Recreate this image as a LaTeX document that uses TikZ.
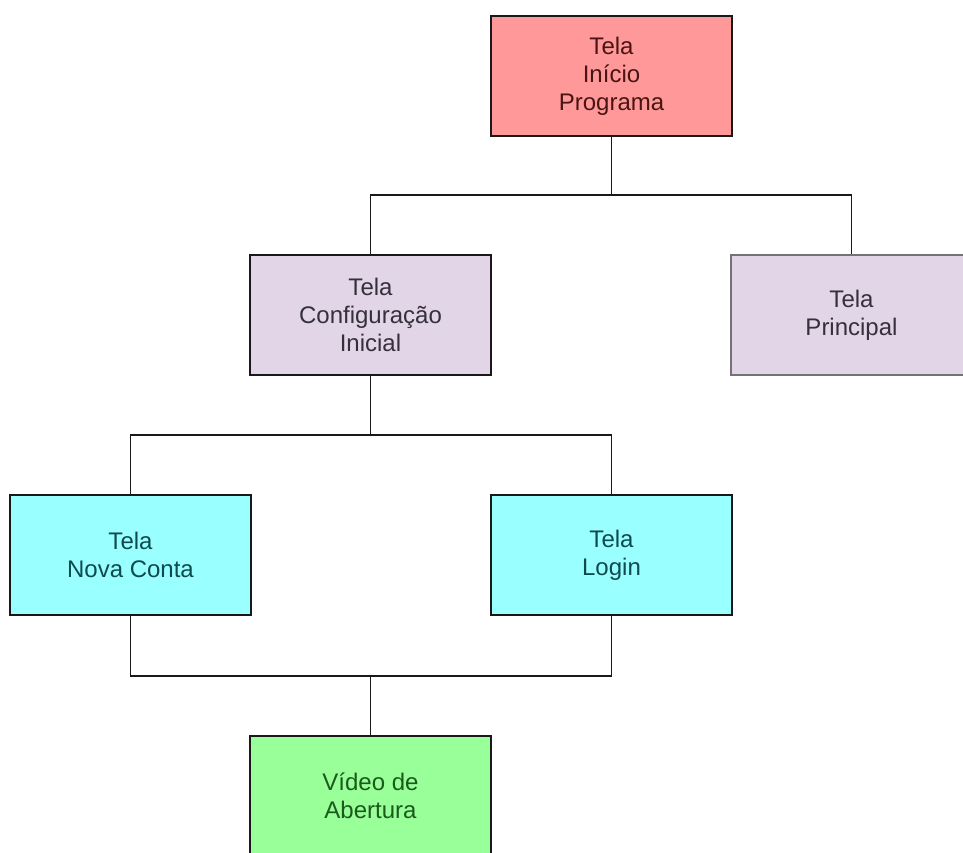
\documentclass[tikz,border=0pt]{standalone}
\usepackage{fontspec}
\setmainfont{Liberation Sans}

\definecolor{inicioFill}{HTML}{FF9999}
\definecolor{inicioText}{HTML}{4A1414}
\definecolor{roxoFill}{HTML}{E1D5E7}
\definecolor{roxoText}{HTML}{35303A}
\definecolor{cianoFill}{HTML}{99FFFF}
\definecolor{cianoText}{HTML}{0E4A4E}
\definecolor{verdeFill}{HTML}{99FF99}
\definecolor{verdeText}{HTML}{1A5A1A}

\tikzset{
  tela/.style={draw=black!90, line width=1.4pt, minimum width=241pt, minimum height=120pt,
    inner sep=0pt, align=center, font=\fontsize{24}{28}\selectfont},
  liga/.style={line width=1.4pt, black!90},
}

\begin{document}
\begin{tikzpicture}[x=1pt,y=-1pt]
            \useasboundingbox (0,0) rectangle (963,852);
            \clip (0,0) rectangle (963,852);

            \coordinate (ramoTopo) at (611.5,195);
            \coordinate (ramoMeio) at (370.5,435);
            \coordinate (ramoBase) at (370.5,676);

            % telas
            \node[tela, fill=inicioFill, text=inicioText] (inicio) at (611.5,76) {Tela\\Início\\Programa};
            \node[tela, fill=roxoFill, text=roxoText] (config) at (370.5,315) {Tela\\Configuração\\Inicial};
            \node[tela, fill=roxoFill, text=roxoText, draw=black!55] (principal) at (851.5,315) {Tela\\Principal};
            \node[tela, fill=cianoFill, text=cianoText] (novaConta) at (130.5,555) {Tela\\Nova Conta};
            \node[tela, fill=cianoFill, text=cianoText] (login) at (611.5,555) {Tela\\Login};
            \node[tela, fill=verdeFill, text=verdeText] (video) at (370.5,796) {Vídeo de\\Abertura};

            % ligacoes
            \draw[liga] (inicio.south) -- (ramoTopo);
            \draw[liga] (config.north) |- (ramoTopo) -| (principal.north);

            \draw[liga] (config.south) -- (ramoMeio);
            \draw[liga] (novaConta.north) |- (ramoMeio) -| (login.north);

            \draw[liga] (novaConta.south) |- (ramoBase) -| (login.south);
            \draw[liga] (ramoBase) -- (video.north);
        \end{tikzpicture}
\end{document}
